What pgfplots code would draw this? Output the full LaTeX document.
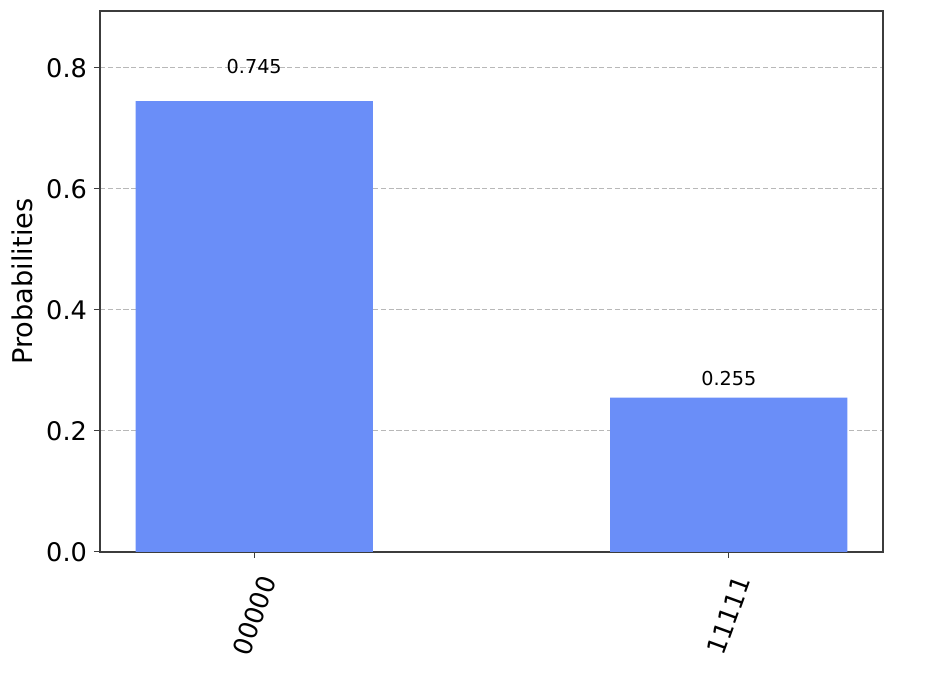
\documentclass[border=0pt]{standalone}
\usepackage{fontspec}
\setmainfont{DejaVu Sans}
\usepackage{pgfplots}
\usepackage{pgfplotstable}
\pgfplotsset{compat=1.18}

\definecolor{barblue}{HTML}{6A8EF8}
\definecolor{framegray}{HTML}{3C3C3C}
\definecolor{gridgray}{HTML}{B8B8B8}

\pgfplotstableread{
x p     lbl
0 0.745 0.745
1 0.255 0.255
}\counts

\begin{document}
\begin{tikzpicture}[x=1pt,y=1pt]
  \path[use as bounding box] (-50,-66) rectangle (422,276);
  \begin{axis}[
      at={(0,0)}, anchor=south west,
      scale only axis,
      width=391.5pt, height=270.5pt,
      xmin=-0.325, xmax=1.325,
      ymin=0, ymax=0.894,
      axis line style={framegray, line width=0.6pt},
      tick align=outside, tick pos=left,
      major tick length=3pt,
      tick style={framegray, line width=0.5pt},
      xtick={0,1},
      xticklabels={\rotatebox{70}{00000},\rotatebox{70}{11111}},
      xticklabel style={anchor=north, yshift=-4.5pt, font=\fontsize{12.8}{15}\selectfont},
      ytick={0,0.2,0.4,0.6,0.8},
      yticklabel style={font=\fontsize{12.8}{15}\selectfont,
        /pgf/number format/.cd, fixed, fixed zerofill, precision=1, assume math mode=true},
      ymajorgrids=true,
      grid style={gridgray, line width=0.5pt, dash pattern=on 2.6pt off 1.3pt},
      ylabel={Probabilities},
      ylabel style={font=\fontsize{13.6}{16}\selectfont},
    ]
    \addplot[ybar, bar width=0.5, fill=barblue, draw=none]
      table[x=x, y=p] {\counts};
    \addplot[draw=none, mark=none, nodes near coords, point meta=explicit symbolic,
      nodes near coords style={anchor=south, inner sep=2pt, font=\fontsize{9.6}{11}\selectfont}]
      table[x=x, y expr=1.05*\thisrow{p}, meta=lbl] {\counts};
  \end{axis}
\end{tikzpicture}
\end{document}
